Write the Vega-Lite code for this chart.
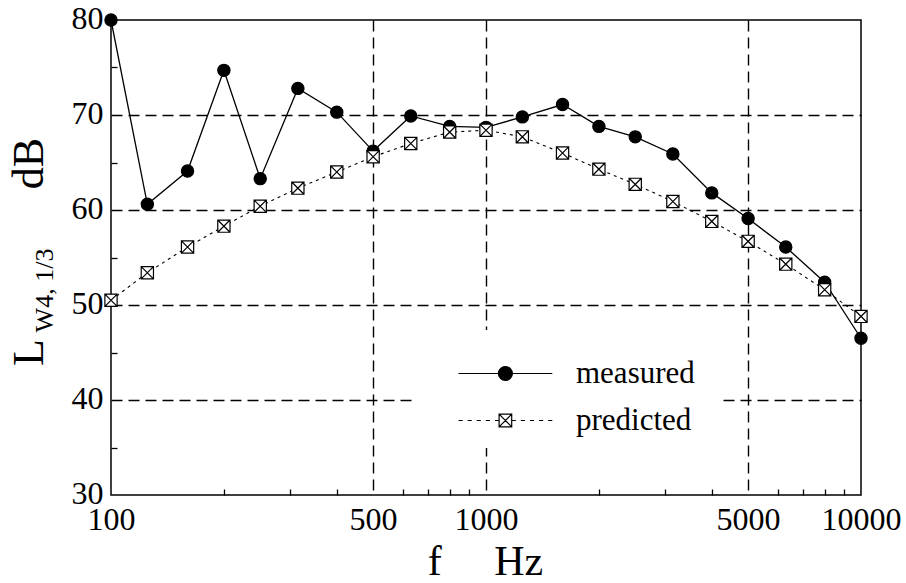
{
  "$schema": "https://vega.github.io/schema/vega-lite/v6.json",
  "width": 750,
  "height": 475,
  "autosize": {"type": "none"},
  "padding": {"left": 111, "top": 20, "right": 45, "bottom": 88},
  "background": "white",
  "config": {
    "view": {"stroke": "black", "strokeWidth": 1.5},
    "axis": {
      "labelFont": "Liberation Serif",
      "titleFont": "Liberation Serif",
      "labelColor": "black",
      "titleColor": "black",
      "titleFontWeight": "normal",
      "labelFontSize": 32,
      "domain": false,
      "tickColor": "black",
      "tickWidth": 1.3,
      "tickSize": -6,
      "gridColor": "black",
      "gridDash": [11, 6],
      "gridWidth": 1.4
    },
    "legend": {
      "title": null,
      "orient": "none",
      "fillColor": "white",
      "labelFont": "Liberation Serif",
      "labelFontSize": 31,
      "labelColor": "black",
      "labelOffset": 102,
      "symbolSize": 196,
      "symbolStrokeWidth": 1.2,
      "symbolStrokeColor": "black",
      "symbolOpacity": 1
    }
  },
  "data": {
    "values": [
      {"f": 100, "series": "measured", "dB": 80.0},
      {"f": 125, "series": "measured", "dB": 60.6},
      {"f": 160, "series": "measured", "dB": 64.1},
      {"f": 200, "series": "measured", "dB": 74.7},
      {"f": 250, "series": "measured", "dB": 63.3},
      {"f": 315, "series": "measured", "dB": 72.8},
      {"f": 400, "series": "measured", "dB": 70.3},
      {"f": 500, "series": "measured", "dB": 66.2},
      {"f": 630, "series": "measured", "dB": 69.9},
      {"f": 800, "series": "measured", "dB": 68.8},
      {"f": 1000, "series": "measured", "dB": 68.7},
      {"f": 1250, "series": "measured", "dB": 69.8},
      {"f": 1600, "series": "measured", "dB": 71.1},
      {"f": 2000, "series": "measured", "dB": 68.8},
      {"f": 2500, "series": "measured", "dB": 67.7},
      {"f": 3150, "series": "measured", "dB": 65.9},
      {"f": 4000, "series": "measured", "dB": 61.8},
      {"f": 5000, "series": "measured", "dB": 59.1},
      {"f": 6300, "series": "measured", "dB": 56.1},
      {"f": 8000, "series": "measured", "dB": 52.4},
      {"f": 10000, "series": "measured", "dB": 46.5},
      {"f": 100, "series": "predicted", "dB": 50.5},
      {"f": 125, "series": "predicted", "dB": 53.4},
      {"f": 160, "series": "predicted", "dB": 56.1},
      {"f": 200, "series": "predicted", "dB": 58.3},
      {"f": 250, "series": "predicted", "dB": 60.4},
      {"f": 315, "series": "predicted", "dB": 62.3},
      {"f": 400, "series": "predicted", "dB": 64.0},
      {"f": 500, "series": "predicted", "dB": 65.6},
      {"f": 630, "series": "predicted", "dB": 67.0},
      {"f": 800, "series": "predicted", "dB": 68.2},
      {"f": 1000, "series": "predicted", "dB": 68.4},
      {"f": 1250, "series": "predicted", "dB": 67.7},
      {"f": 1600, "series": "predicted", "dB": 66.0},
      {"f": 2000, "series": "predicted", "dB": 64.3},
      {"f": 2500, "series": "predicted", "dB": 62.7},
      {"f": 3150, "series": "predicted", "dB": 60.9},
      {"f": 4000, "series": "predicted", "dB": 58.8},
      {"f": 5000, "series": "predicted", "dB": 56.7},
      {"f": 6300, "series": "predicted", "dB": 54.3},
      {"f": 8000, "series": "predicted", "dB": 51.6},
      {"f": 10000, "series": "predicted", "dB": 48.8}
    ]
  },
  "encoding": {
    "x": {
      "field": "f",
      "type": "quantitative",
      "scale": {"type": "log", "domain": [100, 10000], "nice": false},
      "axis": {
        "values": [100, 200, 300, 400, 500, 600, 700, 800, 900, 1000, 2000, 3000, 4000, 5000, 6000, 7000, 8000, 9000, 10000],
        "format": "d",
        "labelExpr": "indexof([100, 500, 1000, 5000, 10000], datum.value) >= 0 ? datum.label : ''",
        "labelPadding": 15,
        "labelFlush": false,
        "labelOverlap": false,
        "grid": true,
        "gridOpacity": {"condition": {"test": "indexof([500, 1000, 5000], datum.value) >= 0", "value": 1}, "value": 0},
        "tickOpacity": {"condition": {"test": "indexof([100, 500, 1000, 5000, 10000], datum.value) < 0", "value": 1}, "value": 0},
        "title": "f\u00a0\u00a0\u00a0\u00a0\u00a0Hz",
        "titleFontSize": 42,
        "titleX": 374,
        "titleY": 79,
        "titleAlign": "center",
        "titleBaseline": "alphabetic"
      }
    }
  },
  "resolve": {"axis": {"y": "independent"}, "scale": {"fill": "independent"}},
  "layer": [
    {
      "transform": [{"filter": "datum.series === 'measured'"}],
      "mark": {"type": "line", "color": "black", "strokeWidth": 1.3},
      "encoding": {
        "y": {
          "field": "dB",
          "type": "quantitative",
          "scale": {"domain": [30, 80], "nice": false, "zero": false},
          "axis": {
            "orient": "left",
            "values": [30, 35, 40, 45, 50, 55, 60, 65, 70, 75, 80],
            "labelExpr": "datum.value % 10 === 0 ? datum.label : ''",
            "labelPadding": 14,
            "labelOffset": -2,
            "labelOverlap": false,
            "labelFlush": false,
            "grid": true,
            "gridOpacity": {"condition": {"test": "datum.value % 10 === 0 && datum.value > 30 && datum.value < 80", "value": 1}, "value": 0},
            "tickOpacity": {"condition": {"test": "datum.value % 10 !== 0", "value": 1}, "value": 0},
            "title": "dB",
            "titleFontSize": 44,
            "titleAngle": 270,
            "titleX": -69,
            "titleY": 143,
            "titleAlign": "center",
            "titleBaseline": "alphabetic"
          }
        }
      }
    },
    {
      "transform": [{"filter": "datum.series === 'predicted'"}],
      "mark": {"type": "line", "color": "black", "strokeWidth": 1.1, "strokeDash": [3, 4]},
      "encoding": {
        "y": {
          "field": "dB",
          "type": "quantitative",
          "axis": {
            "orient": "left",
            "labels": false,
            "ticks": false,
            "domain": false,
            "grid": false,
            "title": "L",
            "titleFontSize": 44,
            "titleAngle": 270,
            "titleX": -69,
            "titleY": 332,
            "titleAlign": "center",
            "titleBaseline": "alphabetic"
          }
        }
      }
    },
    {
      "transform": [{"filter": "datum.series === 'measured'"}],
      "mark": {"type": "point", "shape": "circle", "filled": true, "stroke": "black", "strokeWidth": 1.2, "opacity": 1, "size": 150},
      "encoding": {
        "y": {
          "field": "dB",
          "type": "quantitative",
          "axis": {
            "orient": "left",
            "labels": false,
            "ticks": false,
            "domain": false,
            "grid": false,
            "title": "W4, 1/3",
            "titleFontSize": 26,
            "titleAngle": 270,
            "titleX": -59,
            "titleY": 270,
            "titleAlign": "center",
            "titleBaseline": "alphabetic"
          }
        },
        "fill": {
          "field": "series",
          "type": "nominal",
          "scale": {"domain": ["measured"], "range": ["black"]},
          "legend": {
            "legendX": 304,
            "legendY": 310,
            "padding": 28,
            "symbolType": "M0,0H13.4M5.7,0A1,1 0 1,1 7.7,0A1,1 0 1,1 5.7,0Z"
          }
        }
      }
    },
    {
      "transform": [{"filter": "datum.series === 'predicted'"}],
      "mark": {"type": "point", "shape": "M-1,-1H1V1H-1ZM-1,-1L1,1M1,-1L-1,1", "filled": true, "stroke": "black", "strokeWidth": 1.2, "opacity": 1, "size": 150},
      "encoding": {
        "y": {
          "field": "dB",
          "type": "quantitative",
          "axis": null
        },
        "fill": {
          "field": "series",
          "type": "nominal",
          "scale": {"domain": ["predicted"], "range": ["white"]},
          "legend": {
            "legendX": 320,
            "legendY": 373,
            "padding": 12,
            "symbolType": "M0,0H0.6M1.3,0H1.9M2.6,0H3.2M3.9,0H4.5M5.2,0H5.8M7.6,0H8.2M8.9,0H9.5M10.2,0H10.8M11.5,0H12.1M12.8,0H13.4M5.8,-0.9H7.6V0.9H5.8ZM5.8,-0.9L7.6,0.9M7.6,-0.9L5.8,0.9"
          }
        }
      }
    }
  ]
}
